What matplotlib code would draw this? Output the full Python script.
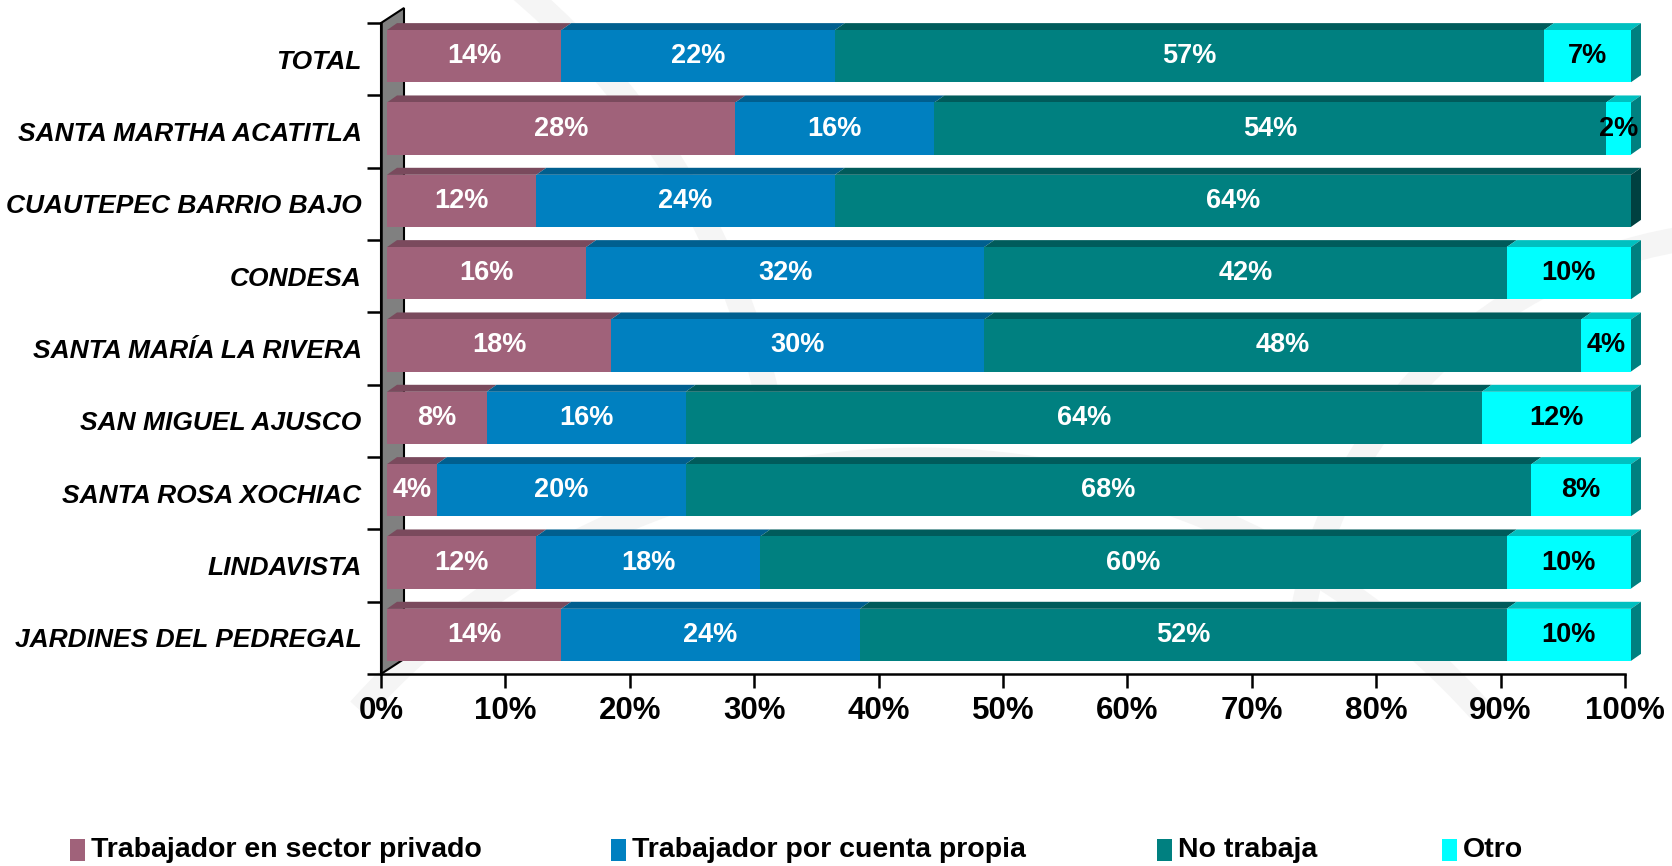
import matplotlib
matplotlib.use("Agg")
import matplotlib.pyplot as plt
from matplotlib.patches import Polygon, Rectangle, Arc
from matplotlib.transforms import IdentityTransform, offset_copy

categories = [
    "TOTAL",
    "SANTA MARTHA ACATITLA",
    "CUAUTEPEC BARRIO BAJO",
    "CONDESA",
    "SANTA MARÍA LA RIVERA",
    "SAN MIGUEL AJUSCO",
    "SANTA ROSA XOCHIAC",
    "LINDAVISTA",
    "JARDINES DEL PEDREGAL",
]
series_names = [
    "Trabajador en sector privado",
    "Trabajador por cuenta propia",
    "No trabaja",
    "Otro",
]
privado = [14, 28, 12, 16, 18, 8, 4, 12, 14]
propia = [22, 16, 24, 32, 30, 16, 20, 18, 24]
no_trabaja = [57, 54, 64, 42, 48, 64, 68, 60, 52]
otro = [7, 2, 0, 10, 4, 12, 8, 10, 10]
xticks = list(range(0, 101, 10))

front_col = ["#A0627A", "#0080C0", "#008080", "#00FFFF"]
top_col = ["#7A4A5D", "#005F8F", "#005B5B", "#00C0C0"]
side_col = ["#6E4255", "#005580", "#004040", "#008080"]
text_col = ["white", "white", "white", "black"]

plt.rcParams["font.family"] = ["Liberation Sans", "DejaVu Sans"]

W, H = 1672, 866
fig = plt.figure(figsize=(W / 100, H / 100), dpi=100)

# faint watermark swooshes behind everything
for cx, cy, r, t1, t2 in [(0.02, 0.35, 0.9, 20, 80), (0.55, -0.4, 0.9, 60, 120),
                          (1.05, 0.2, 0.55, 95, 170)]:
    fig.patches.append(Arc((cx, cy), r, r * W / H, theta1=t1, theta2=t2,
                           transform=fig.transFigure, color="#f5f5f5", lw=18,
                           zorder=-10))

left, right, top, bottom = 381, 1625, 23, 674
ax = fig.add_axes([left / W, 1 - bottom / H, (right - left) / W, (bottom - top) / H])
ax.set_facecolor("none")
n = len(categories)
ax.set_xlim(0, 100)
ax.set_ylim(n - 0.5, -0.5)

# side wall
x0, y0 = ax.transAxes.transform((0, 0))
x1, y1 = ax.transAxes.transform((0, 1))
WD = (23, 15)
wall = Polygon([(x0, y0), (x0 + WD[0], y0 + WD[1]), (x1 + WD[0], y1 + WD[1]), (x1, y1)],
               closed=True, facecolor="#808080", edgecolor="black", lw=1.5,
               transform=IdentityTransform(), clip_on=False, zorder=0.5)
ax.add_artist(wall)

off = offset_copy(ax.transData, fig=fig, x=6, y=3, units="dots")
D = (10, 7)
h = 0.72

values = [privado, propia, no_trabaja, otro]
for i in range(n):
    lefts = 0
    segs = []
    for k, vals in enumerate(values):
        v = vals[i]
        if v > 0:
            segs.append((k, lefts, lefts + v))
        lefts += v
    for j, (k, l, r) in enumerate(segs):
        ax.barh(i, r - l, left=l, height=h, color=front_col[k], transform=off,
                zorder=3, lw=0, clip_on=False)
        xl, yt = off.transform((l, i - h / 2))
        xr, yb = off.transform((r, i + h / 2))
        ax.add_artist(Polygon([(xl, yt), (xr, yt), (xr + D[0], yt + D[1]), (xl + D[0], yt + D[1])],
                              closed=True, facecolor=top_col[k], lw=0,
                              transform=IdentityTransform(), clip_on=False, zorder=2))
        if j == len(segs) - 1:
            ax.add_artist(Polygon([(xr, yb), (xr + D[0], yb + D[1]), (xr + D[0], yt + D[1]), (xr, yt)],
                                  closed=True, facecolor=side_col[k], lw=0,
                                  transform=IdentityTransform(), clip_on=False, zorder=2))
        ax.text((l + r) / 2, i, f"{r - l}%", transform=off, ha="center", va="center",
                color=text_col[k], fontsize=19.5, fontweight="bold", zorder=5)

for s in ["top", "right"]:
    ax.spines[s].set_visible(False)
for s in ["left", "bottom"]:
    ax.spines[s].set_linewidth(1.8)
    ax.spines[s].set_zorder(1)

ax.set_xticks(xticks)
ax.set_xticklabels([f"{t}%" for t in xticks], fontsize=22.5, fontweight="bold")
ax.tick_params(axis="x", length=10, width=1.8, pad=6)
ax.set_yticks(range(n))
ax.set_yticklabels(categories, fontsize=19, fontweight="bold", style="italic")
ax.set_yticks([b - 0.5 for b in range(n + 1)], minor=True)
ax.tick_params(axis="y", which="major", length=0, pad=14)
ax.tick_params(axis="y", which="minor", length=10, width=1.8)

# legend
leg_x = [70, 611, 1157, 1442]
leg_y = 850
for k, name in enumerate(series_names):
    fig.patches.append(Rectangle(((leg_x[k]) / W, 1 - (leg_y + 11) / H), 15 / W, 22 / H,
                                 transform=fig.transFigure, facecolor=front_col[k], lw=0))
    fig.text((leg_x[k] + 21) / W, 1 - leg_y / H, name, ha="left", va="center",
             fontsize=20.5, fontweight="bold")

fig.savefig("out.png", dpi=100)
